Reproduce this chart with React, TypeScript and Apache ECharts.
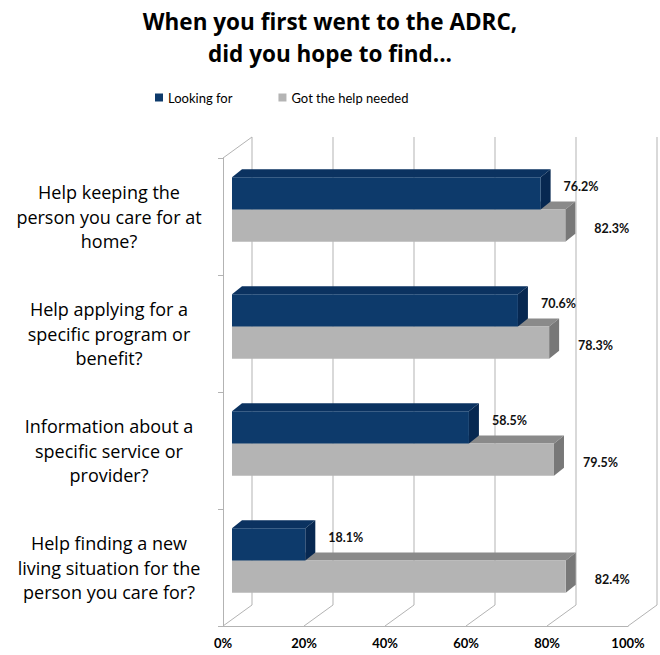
import React, { useEffect, useRef } from 'react';
import * as echarts from 'echarts';

const categories = [
  'Help keeping the\nperson you care for at\nhome?',
  'Help applying for a\nspecific program or\nbenefit?',
  'Information about a\nspecific service or\nprovider?',
  'Help finding a new\nliving situation for the\nperson you care for?',
];
const seriesNames = ['Looking for', 'Got the help needed'];
const lookingFor = [76.2, 70.6, 58.5, 18.1];
const gotHelp = [82.3, 78.3, 79.5, 82.4];
const xTicks = [0, 20, 40, 60, 80, 100];

const WALL_DX = 29;
const WALL_DY = -21;
const PLANE_DX = 9;
const PLANE_DY = -7;
const DEPTH_DX = 10;
const DEPTH_DY = -8;
const BAR_FRAC = 0.275;
const FONT = 'Lato, "Open Sans", sans-serif';
const WIDE_FONT = '"Open Sans", Lato, sans-serif';

const blueColors = { front: '#0d3a6b', top: '#0b3260', side: '#072851' };
const grayColors = { front: '#b4b4b4', top: '#8a8a8a', side: '#787878' };

function makeBarRender(idx: number, colors: any, labelDx: number, labelDy: number) {
  return (params: any, api: any) => {
    const v = api.value(0);
    const c = api.value(1);
    const start = api.coord([0, c]);
    const end = api.coord([v, c]);
    const band = api.size([0, 1])[1];
    const h = band * BAR_FRAC;
    const cy = start[1] + PLANE_DY;
    const top = idx === 0 ? cy - h : cy;
    const bot = top + h;
    const x0 = start[0] + PLANE_DX;
    const x1 = end[0] + PLANE_DX;
    return {
      type: 'group',
      children: [
        {
          type: 'polygon',
          shape: { points: [[x0, top], [x0 + DEPTH_DX, top + DEPTH_DY], [x1 + DEPTH_DX, top + DEPTH_DY], [x1, top]] },
          style: { fill: colors.top },
        },
        {
          type: 'polygon',
          shape: { points: [[x1, top], [x1 + DEPTH_DX, top + DEPTH_DY], [x1 + DEPTH_DX, bot + DEPTH_DY], [x1, bot]] },
          style: { fill: colors.side },
        },
        {
          type: 'rect',
          shape: { x: x0, y: top, width: x1 - x0, height: h },
          style: { fill: colors.front },
        },
        {
          type: 'text',
          style: {
            text: v.toFixed(1) + '%',
            x: x1 + DEPTH_DX + labelDx,
            y: (top + bot) / 2 + labelDy,
            align: 'left',
            verticalAlign: 'middle',
            font: 'bold 12.5px ' + FONT,
            fill: '#111',
          },
        },
      ],
    };
  };
}

function renderGrid(params: any, api: any) {
  const t = api.value(0);
  const cs = params.coordSys;
  const x = api.coord([t, 0])[0];
  const yTop = cs.y;
  const yBot = cs.y + cs.height;
  const lineStyle = { stroke: '#b3b3b3', lineWidth: 1, fill: 'none' };
  const children: any[] = [
    {
      type: 'polyline',
      shape: { points: [[x + WALL_DX, yTop + WALL_DY], [x + WALL_DX, yBot + WALL_DY], [x, yBot]] },
      style: lineStyle,
    },
  ];
  if (t === 0) {
    children.push({
      type: 'line',
      shape: { x1: x, y1: yTop, x2: x + WALL_DX, y2: yTop + WALL_DY },
      style: lineStyle,
    });
  }
  return { type: 'group', children };
}

export default function App() {
  const ref = useRef<HTMLDivElement>(null);
  useEffect(() => {
    document.body.style.margin = '0';
    const chart = echarts.init(ref.current!, null, { renderer: 'svg' });
    chart.setOption({
      animation: false,
      backgroundColor: '#ffffff',
      title: {
        text: 'When you first went to the ADRC,\ndid you hope to find...',
        left: 'center',
        top: 0,
        textStyle: { fontFamily: WIDE_FONT, fontWeight: 'bold', fontSize: 22.5, lineHeight: 32, color: '#000' },
      },
      legend: {
        data: seriesNames,
        top: 86,
        left: 150,
        itemWidth: 8,
        itemHeight: 8,
        itemGap: 46,
        icon: 'rect',
        textStyle: { fontFamily: FONT, fontSize: 13, color: '#000' },
      },
      grid: { left: 223, right: 32, top: 158, bottom: 29 },
      xAxis: {
        type: 'value',
        min: 0,
        max: 100,
        interval: 20,
        axisLine: { show: true, lineStyle: { color: '#b3b3b3' } },
        axisTick: { show: false },
        splitLine: { show: false },
        axisLabel: {
          formatter: '{value}%',
          fontFamily: FONT,
          fontWeight: 'bold',
          fontSize: 13,
          color: '#000',
          margin: 10,
        },
      },
      yAxis: {
        type: 'category',
        inverse: true,
        data: categories,
        axisLine: { show: true, lineStyle: { color: '#b3b3b3' } },
        axisTick: { show: true, length: 5, lineStyle: { color: '#b3b3b3' } },
        splitLine: { show: false },
        axisLabel: {
          fontFamily: WIDE_FONT,
          fontSize: 18,
          lineHeight: 24.5,
          color: '#000',
          align: 'center',
          margin: 114,
        },
      },
      series: [
        {
          name: 'grid',
          type: 'custom',
          z: 1,
          silent: true,
          renderItem: renderGrid,
          data: xTicks.map((t) => [t, 0]),
          encode: { x: 0, y: 1 },
        },
        {
          name: seriesNames[0],
          type: 'custom',
          z: 3,
          itemStyle: { color: blueColors.front },
          renderItem: makeBarRender(0, blueColors, 13, -7),
          data: lookingFor.map((v, i) => [v, i]),
          encode: { x: 0, y: 1 },
        },
        {
          name: seriesNames[1],
          type: 'custom',
          z: 2,
          itemStyle: { color: grayColors.front },
          renderItem: makeBarRender(1, grayColors, 19, 3),
          data: gotHelp.map((v, i) => [v, i]),
          encode: { x: 0, y: 1 },
        },
      ],
    });
    return () => chart.dispose();
  }, []);
  return <div ref={ref} style={{ width: 660, height: 655 }} />;
}
